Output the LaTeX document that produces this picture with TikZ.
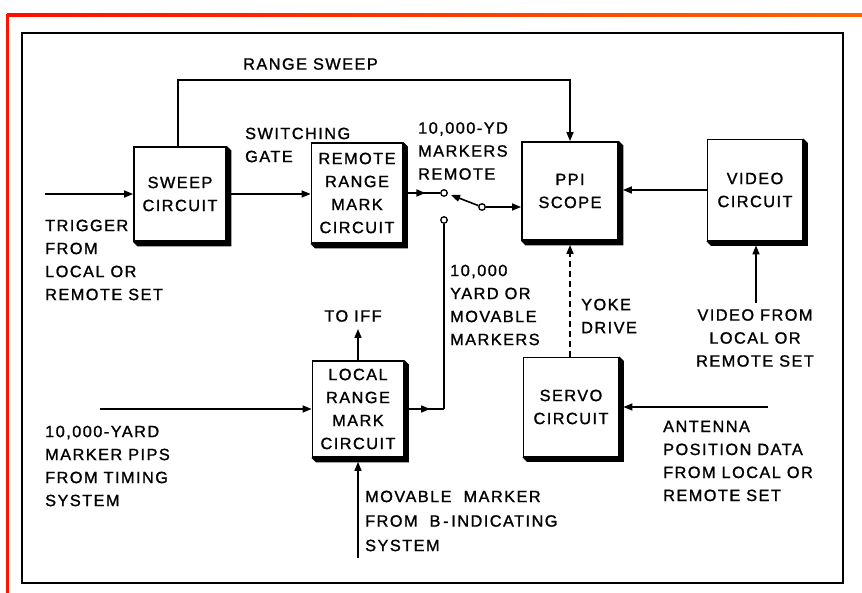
\documentclass[tikz,border=0pt]{standalone}
\usepackage{fontspec}
\setmainfont{Liberation Sans}[LetterSpace=9, FakeBold=1.3]
\usetikzlibrary{arrows.meta,decorations.markings,calc,backgrounds}
\begin{document}
\begin{tikzpicture}[x=1pt,y=-1pt,
  txt/.style={font=\fontsize{16.3}{23}\selectfont},
  lbl/.style={txt, inner sep=0pt, anchor=west, align=left},
  blk/.style={draw, line width=1.8pt, fill=white, align=center, txt},
  shadowfill/.style={fill=black},
  wire/.style={line width=1.6pt},
  arr/.style={wire, -{Triangle[length=9pt,width=7pt]}},
  midarr/.style={wire, postaction={decorate}, decoration={markings,
    mark=at position #1 with {\arrow{Triangle[length=9pt,width=7pt]}}}},
  contact/.style={circle, draw, fill=white, inner sep=0pt, minimum size=6.5pt, line width=1.3pt},
]
\useasboundingbox (0,0) rectangle (862,593);
\begin{scope}[on background layer]
\fill[white] (0,0) rectangle (862,593);
\end{scope}
% page borders
\shade[left color=red!90!orange, right color=orange!80!red] (7,13.8) rectangle (862,16.6);
\fill[red!85!orange] (5.8,13.8) rectangle (8.6,593);
\draw[line width=1.6pt] (22,33) rectangle (843,583);

% blocks
\node[blk, minimum width=92pt, minimum height=94pt] (sweep) at (180,194) {SWEEP\\CIRCUIT};
\node[blk, minimum width=91pt, minimum height=100pt] (remote) at (357,193) {REMOTE\\RANGE\\MARK\\CIRCUIT};
\node[blk, minimum width=96pt, minimum height=98pt] (ppi) at (570,191) {PPI\\SCOPE};
\node[blk, minimum width=95pt, minimum height=101pt] (video) at (755,190) {VIDEO\\CIRCUIT};
\node[blk, minimum width=91pt, minimum height=96pt] (local) at (358,409) {LOCAL\\RANGE\\MARK\\CIRCUIT};
\node[blk, minimum width=95pt, minimum height=99pt] (servo) at (571,407) {SERVO\\CIRCUIT};

% block shadows (extrusion to lower right)
\begin{scope}[on background layer]
\foreach \b in {sweep,remote,ppi,video,local,servo}{
  \fill[shadowfill] (\b.north east) -- ($(\b.north east)+(4.5,4.5)$) -- ($(\b.south east)+(4.5,4.5)$)
     -- ($(\b.south west)+(4.5,4.5)$) -- (\b.south west) -- cycle;
}
\end{scope}

% switch
\node[contact] (c1) at (444,193) {};
\node[contact] (c2) at (444,220) {};
\node[contact] (pv) at (482,207) {};
\coordinate (armtip) at (451,195);

% connectors
\coordinate (trigin) at (45,194);
\draw[arr] (trigin) -- (sweep.west);
\draw[arr] (sweep.east) -- (sweep.east -| remote.west);
\coordinate (rs) at (178,80);
\draw[arr] (sweep.north -| rs) -- (rs) -- (rs -| ppi.north) -- (ppi.north);
\draw[midarr=0.6] (remote.east) -- (c1);
\draw[arr] (pv) -- (armtip);
\draw[arr] (pv) -- (pv -| ppi.west);
\coordinate (lc) at (local.east -| c2);
\draw[midarr=0.65] (local.east) -- (lc);
\draw[wire] (lc) -- (c2);
\coordinate (iff) at (358,329);
\draw[arr] (local.north) -- (iff);
\coordinate (mp) at (100,409);
\draw[arr] (mp) -- (local.west);
\coordinate (mm) at (358,558);
\draw[arr] (mm) -- ($(local.south)+(0,4)$);
\draw[arr] (video.west) -- ($(video.west -| ppi.east)+(4,0)$);
\coordinate (vf) at (756,303);
\draw[arr] (vf) -- ($(video.south -| vf)+(0,4)$);
\draw[arr, dash pattern=on 6pt off 4pt] (servo.north -| ppi.south) -- ($(ppi.south)+(0,4)$);
\coordinate (an) at (768,407);
\draw[arr] (an) -- ($(servo.east)+(4,0)$);

% labels
\node[lbl] (l1) at (243,64) {RANGE SWEEP};
\node[lbl] (l2) at (245,145) {SWITCHING\\GATE};
\node[lbl] (l3) at (418,151) {10,000-YD\\MARKERS\\REMOTE};
\node[lbl] (l4) at (45,260) {TRIGGER\\FROM\\LOCAL OR\\REMOTE SET};
\node[lbl] (l5) at (450,305) {10,000\\YARD OR\\MOVABLE\\MARKERS};
\node[lbl, anchor=center] (l6) at (353,316) {TO IFF};
\node[lbl] (l7) at (45,466) {10,000-YARD\\MARKER PIPS\\FROM TIMING\\SYSTEM};
\node[lbl, font=\fontsize{16.3}{24.5}\selectfont] (l8) at (365,521) {MOVABLE\ \ MARKER\\FROM\ \ B\,-\,INDICATING\\SYSTEM};
\node[lbl] (l9) at (581,316) {YOKE\\DRIVE};
\node[lbl, align=center, anchor=center] (l10) at (755,338) {VIDEO FROM\\LOCAL OR\\REMOTE SET};
\node[lbl] (l11) at (663,461) {ANTENNA\\POSITION DATA\\FROM LOCAL OR\\REMOTE SET};
\end{tikzpicture}
\end{document}
